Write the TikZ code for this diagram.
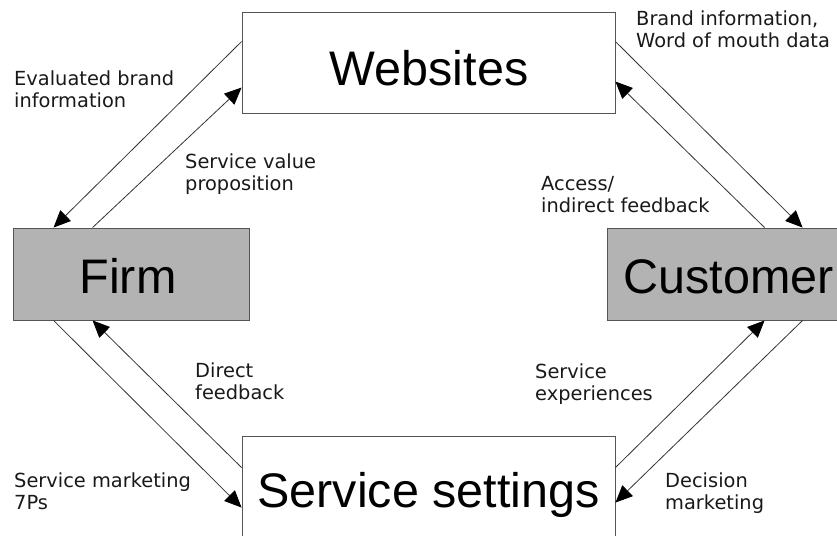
\documentclass[tikz,border=0pt]{standalone}
\usepackage{fontspec}
\setmainfont{Liberation Sans}
\newfontfamily\labelfont{DejaVu Sans}
\usetikzlibrary{arrows.meta,calc}
\definecolor{boxgray}{HTML}{B3B3B3}
\definecolor{edgegray}{HTML}{555555}
\definecolor{linegray}{HTML}{333333}
\begin{document}
\begin{tikzpicture}[x=1pt,y=-1pt,
  whitebox/.style={draw=edgegray,line width=0.9pt,fill=white,inner sep=0,minimum width=373pt,minimum height=101pt},
  graybox/.style={draw=edgegray,line width=0.9pt,fill=boxgray,inner sep=0,minimum width=236pt,minimum height=92pt},
  boxtext/.style={font=\fontsize{48.5}{52}\selectfont,anchor=base,inner sep=0,text=black},
  % anchored at the baseline of the last line
  flowlabel/.style={font=\labelfont\fontsize{19.4}{22}\selectfont,anchor=base west,align=left,inner sep=0,text=black!90},
  flow/.style={draw=linegray,line width=0.8pt,-{Triangle[length=17pt,width=15pt,color=black]}}]
\useasboundingbox (0,0) rectangle (837,535);
\clip (0,0) rectangle (837,535);

% boxes
\node[whitebox] (web)  at (428.5,62.5) {};
\node[graybox]  (firm) at (131,274) {};
\node[graybox]  (cust) at (725,274) {};
\node[whitebox] (serv) at (428.5,486.5) {};

\node[boxtext] (webtxt)  at (429,85)  {Websites};
\node[boxtext] (firmtxt) at (128,293)   {Firm};
\node[boxtext] (custtxt) at (728.5,293) {Customer};
\node[boxtext] (servtxt) at (428.5,507) {Service settings};

% connectors between the boxes
\draw[flow] ([yshift=-30pt]web.north west) -- ([xshift=41pt]firm.north west);
\draw[flow] ([xshift=80pt]firm.north west) -- ([yshift=-76pt]web.north west);
\draw[flow] ([yshift=-30pt]web.north east) -- ([xshift=196pt]cust.north west);
\draw[flow] ([xshift=158pt]cust.north west) -- ([yshift=-70pt]web.north east);
\draw[flow] ([xshift=41pt]firm.south west) -- ([yshift=-72pt]serv.north west);
\draw[flow] ([yshift=-32pt]serv.north west) -- ([xshift=80pt]firm.south west);
\draw[flow] ([yshift=-32pt]serv.north east) -- ([xshift=158pt]cust.south west);
\draw[flow] ([xshift=196pt]cust.south west) -- ([yshift=-67pt]serv.north east);

% labels
\node[flowlabel] (l1) at (14,107)  {Evaluated brand\\information};
\node[flowlabel] (l2) at (185,190) {Service value\\proposition};
\node[flowlabel] (l3) at (636,48)  {Brand information,\\Word of mouth data};
\node[flowlabel] (l4) at (541,212) {Access/\\indirect feedback};
\node[flowlabel] (l5) at (195,399) {Direct\\feedback};
\node[flowlabel] (l6) at (14,509)  {Service marketing\\7Ps};
\node[flowlabel] (l7) at (535,400) {Service\\experiences};
\node[flowlabel] (l8) at (665,509) {Decision\\marketing};
\end{tikzpicture}
\end{document}
